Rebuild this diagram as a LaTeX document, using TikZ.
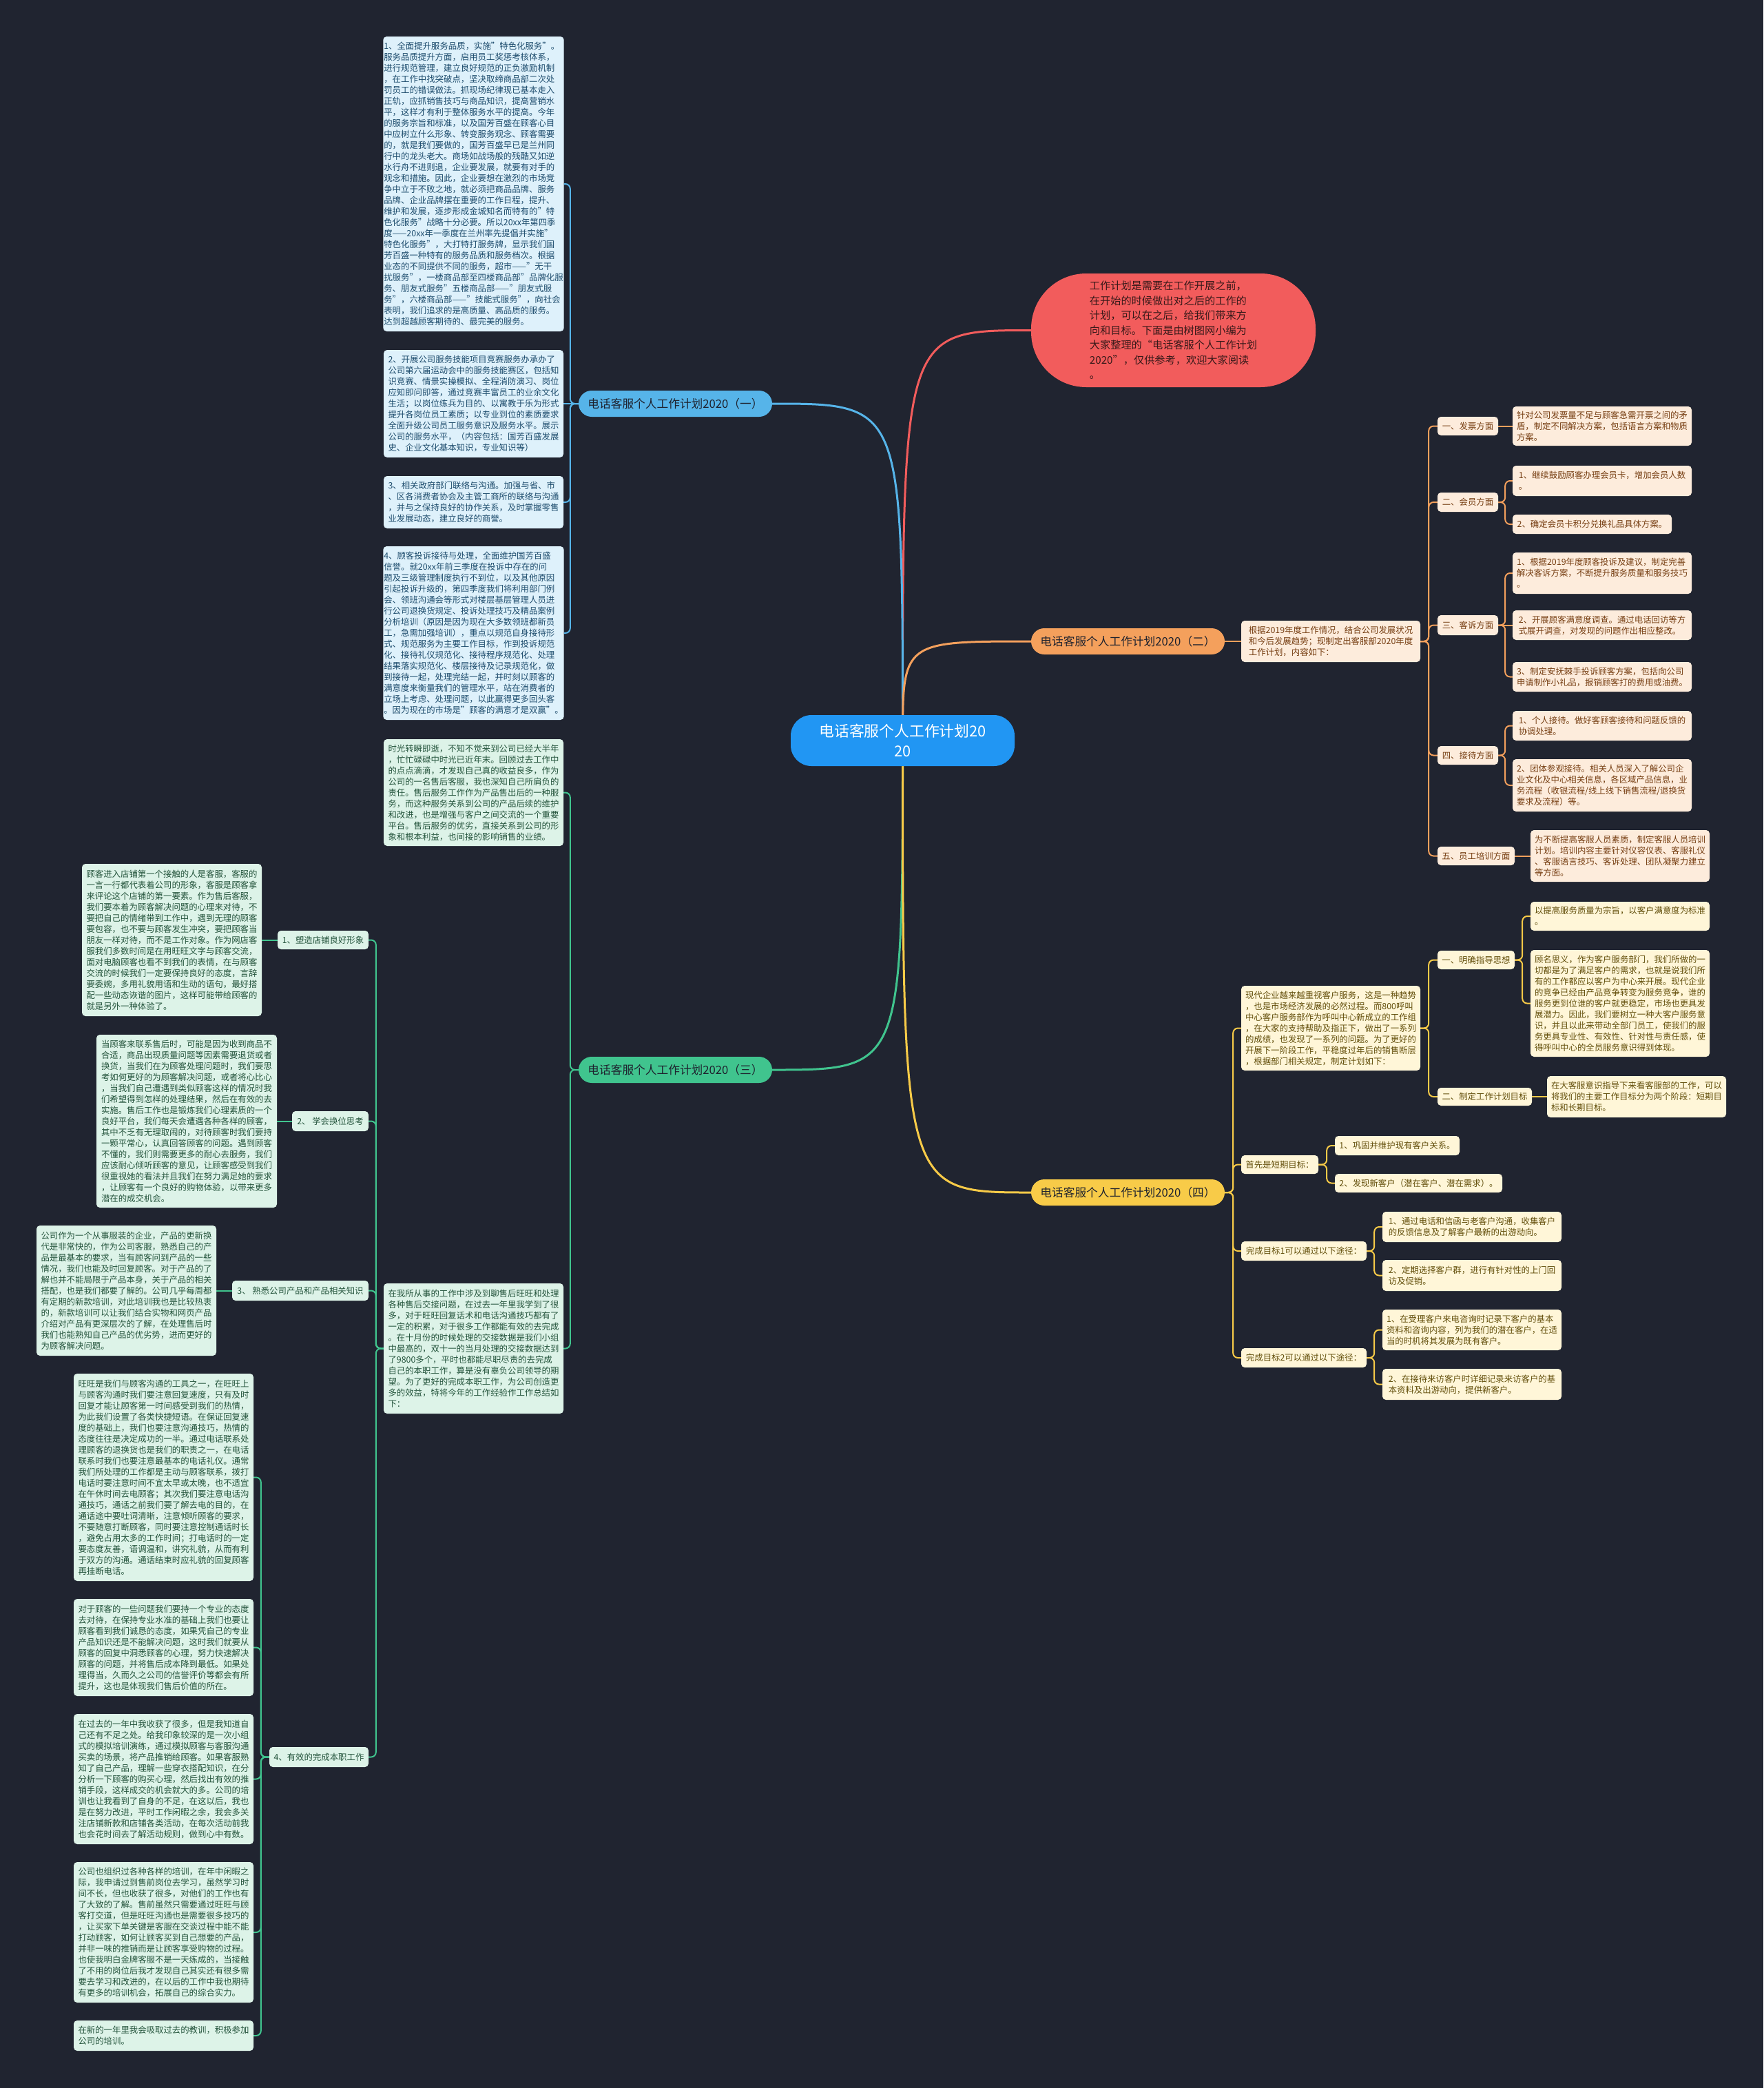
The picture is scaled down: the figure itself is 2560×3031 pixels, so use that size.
\documentclass[tikz,border=0pt]{standalone}
\usepackage{fontspec}
\setmainfont{Noto Sans CJK SC}
\definecolor{bgc}{RGB}{32,36,48}
\definecolor{cCenter}{RGB}{33,150,243}
\definecolor{cRed}{RGB}{242,92,92}
\definecolor{cRedTxt}{RGB}{55,25,25}
\definecolor{cBlueL}{RGB}{86,180,233}
\definecolor{cBlueF}{RGB}{222,241,251}
\definecolor{cBlueT}{RGB}{28,75,108}
\definecolor{cGreenL}{RGB}{64,196,142}
\definecolor{cGreenF}{RGB}{221,243,232}
\definecolor{cGreenT}{RGB}{36,84,60}
\definecolor{cOrL}{RGB}{244,160,92}
\definecolor{cOrF}{RGB}{253,236,220}
\definecolor{cOrT}{RGB}{118,62,18}
\definecolor{cYeL}{RGB}{248,203,72}
\definecolor{cYeF}{RGB}{255,246,216}
\definecolor{cYeT}{RGB}{98,78,10}
\definecolor{cLabT}{RGB}{30,34,46}
\pgfdeclarelayer{back}
\pgfdeclarelayer{links}
\pgfsetlayers{back,links,main}
\newcommand\tbx[7]{\node[#2,minimum width=#5pt,minimum height=#6pt] (#1) at ({#3+#5/2},{#4+#6/2}) {#7};}
\newcommand\lnL[4]{\draw[#1] (#3.west) -- ++(-#2,0) |- (#4.east);}
\newcommand\lnR[4]{\draw[#1] (#3.east) -- ++(#2,0) |- (#4.west);}
\begin{document}
\begin{tikzpicture}[x=1pt,y=-1pt,
  tbox/.style={rectangle,rounded corners=5pt,inner xsep=1pt,inner ysep=0pt,align=left,font=\fontsize{12.4}{16}\selectfont},
  bluebox/.style={tbox,fill=cBlueF,text=cBlueT},
  greenbox/.style={tbox,fill=cGreenF,text=cGreenT},
  orangebox/.style={tbox,fill=cOrF,text=cOrT},
  yellowbox/.style={tbox,fill=cYeF,text=cYeT},
  branchnode/.style={rectangle,rounded corners=19pt,minimum width=281pt,minimum height=38pt,inner sep=0pt,align=center,text=cLabT,font=\fontsize{16.7}{20}\selectfont},
  linkbase/.style={line width=2pt,rounded corners=7pt},
  blueln/.style={linkbase,draw=cBlueL},
  greenln/.style={linkbase,draw=cGreenL},
  orangeln/.style={linkbase,draw=cOrL},
  yellowln/.style={linkbase,draw=cYeL},
  mainln/.style={line width=3pt}
]
\useasboundingbox (0,0) rectangle (2560,3031);
\begin{pgfonlayer}{back}
\fill[bgc] (0,0) rectangle (2560,3031);
\end{pgfonlayer}

% centre
\node[rectangle,rounded corners=30pt,fill=cCenter,text=white,minimum width=325pt,minimum height=74pt,inner sep=0pt,align=center,font=\fontsize{21.8}{29}\selectfont] (c) at (1310.5,1075) {电话客服个人工作计划20\\20};

% intro bubble
\node[rectangle,rounded corners=80pt,fill=cRed,text=cRedTxt,minimum width=413pt,minimum height=165pt,inner sep=0pt,align=left,font=\fontsize{15.2}{21.5}\selectfont] (intro) at (1703.5,479.5) {工作计划是需要在工作开展之前，\\在开始的时候做出对之后的工作的\\计划，可以在之后，给我们带来方\\向和目标。下面是由树图网小编为\\大家整理的“电话客服个人工作计划\\2020”，仅供参考，欢迎大家阅读\\。};

% branch labels
\node[branchnode,fill=cBlueL] (b1) at (980.5,586) {电话客服个人工作计划2020（一）};
\node[branchnode,fill=cOrL] (b2) at (1637.5,931) {电话客服个人工作计划2020（二）};
\node[branchnode,fill=cGreenL] (b3) at (980.5,1553) {电话客服个人工作计划2020（三）};
\node[branchnode,fill=cYeL] (b4) at (1637.5,1731) {电话客服个人工作计划2020（四）};

% ---------- branch 1 ----------
\tbx{bA}{bluebox}{557}{53}{261}{428}{1、全面提升服务品质，实施"特色化服务"。\\服务品质提升方面，启用员工奖惩考核体系，\\进行规范管理，建立良好规范的正负激励机制\\，在工作中找突破点，坚决取缔商品部二次处\\罚员工的错误做法。抓现场纪律现已基本走入\\正轨，应抓销售技巧与商品知识，提高营销水\\平，这样才有利于整体服务水平的提高。今年\\的服务宗旨和标准，以及国芳百盛在顾客心目\\中应树立什么形象、转变服务观念、顾客需要\\的，就是我们要做的，国芳百盛早已是兰州同\\行中的龙头老大。商场如战场般的残酷又如逆\\水行舟不进则退，企业要发展，就要有对手的\\观念和措施。因此，企业要想在激烈的市场竞\\争中立于不败之地，就必须把商品品牌、服务\\品牌、企业品牌摆在重要的工作日程，提升、\\维护和发展，逐步形成金城知名而特有的"特\\色化服务"战略十分必要。所以20xx年第四季\\度——20xx年一季度在兰州率先提倡并实施"\\特色化服务"，大打特打服务牌，显示我们国\\芳百盛一种特有的服务品质和服务档次。根据\\业态的不同提供不同的服务，超市——"无干\\扰服务"，一楼商品部至四楼商品部"品牌化服\\务、朋友式服务"五楼商品部——"朋友式服\\务"，六楼商品部——"技能式服务"，向社会\\表明，我们追求的是高质量、高品质的服务。\\达到超越顾客期待的、最完美的服务。}
\tbx{bB}{bluebox}{557}{508}{261}{156}{2、开展公司服务技能项目竞赛服务办承办了\\公司第六届运动会中的服务技能赛区，包括知\\识竞赛、情景实操模拟、全程消防演习、岗位\\应知即问即答，通过竞赛丰富员工的业余文化\\生活；以岗位练兵为目的、以寓教于乐为形式\\提升各岗位员工素质；以专业到位的素质要求\\全面升级公司员工服务意识及服务水平。展示\\公司的服务水平，（内容包括：国芳百盛发展\\史、企业文化基本知识，专业知识等）}
\tbx{bC}{bluebox}{557}{691}{261}{76}{3、相关政府部门联络与沟通。加强与省、市\\、区各消费者协会及主管工商所的联络与沟通\\，并与之保持良好的协作关系，及时掌握零售\\业发展动态，建立良好的商誉。}
\tbx{bD}{bluebox}{557}{793}{261}{252}{4、顾客投诉接待与处理，全面维护国芳百盛\\信誉。就20xx年前三季度在投诉中存在的问\\题及三级管理制度执行不到位，以及其他原因\\引起投诉升级的，第四季度我们将利用部门例\\会、领班沟通会等形式对楼层基层管理人员进\\行公司退换货规定、投诉处理技巧及精品案例\\分析培训（原因是因为现在大多数领班都新员\\工，急需加强培训），重点以规范自身接待形\\式、规范服务为主要工作目标，作到投诉规范\\化、接待礼仪规范化、接待程序规范化、处理\\结果落实规范化、楼层接待及记录规范化，做\\到接待一起，处理完结一起，并时刻以顾客的\\满意度来衡量我们的管理水平，站在消费者的\\立场上考虑、处理问题，以此赢得更多回头客\\。因为现在的市场是"顾客的满意才是双赢"。}

% ---------- branch 3 ----------
\tbx{gI}{greenbox}{557}{1073}{261}{155}{时光转瞬即逝，不知不觉来到公司已经大半年\\，忙忙碌碌中时光已近年末。回顾过去工作中\\的点点滴滴，才发现自己真的收益良多，作为\\公司的一名售后客服，我也深知自己所肩负的\\责任。售后服务工作作为产品售出后的一种服\\务，而这种服务关系到公司的产品后续的维护\\和改进，也是增强与客户之间交流的一个重要\\平台。售后服务的优劣，直接关系到公司的形\\象和根本利益，也间接的影响销售的业绩。}
\tbx{gW}{greenbox}{557}{1863}{261}{189}{在我所从事的工作中涉及到聊售后旺旺和处理\\各种售后交接问题，在过去一年里我学到了很\\多，对于旺旺回复话术和电话沟通技巧都有了\\一定的积累，对于很多工作都能有效的去完成\\。在十月份的时候处理的交接数据是我们小组\\中最高的，双十一的当月处理的交接数据达到\\了9800多个，平时也都能尽职尽责的去完成\\自己的本职工作，算是没有辜负公司领导的期\\望。为了更好的完成本职工作，为公司创造更\\多的效益，特将今年的工作经验作工作总结如\\下：}
\tbx{s1}{greenbox}{403}{1351}{132}{27}{1、塑造店铺良好形象}
\tbx{s2}{greenbox}{424}{1613}{111}{29}{2、~学会换位思考}
\tbx{s3}{greenbox}{337}{1859}{198}{29}{3、~熟悉公司产品和产品相关知识}
\tbx{s4}{greenbox}{391}{2536}{144}{29}{4、有效的完成本职工作}
\tbx{s1c}{greenbox}{119}{1254}{261}{221}{顾客进入店铺第一个接触的人是客服，客服的\\一言一行都代表着公司的形象，客服是顾客拿\\来评论这个店铺的第一要素。作为售后客服，\\我们要本着为顾客解决问题的心理来对待，不\\要把自己的情绪带到工作中，遇到无理的顾客\\要包容，也不要与顾客发生冲突，要把顾客当\\朋友一样对待，而不是工作对象。作为网店客\\服我们多数时间是在用旺旺文字与顾客交流，\\面对电脑顾客也看不到我们的表情，在与顾客\\交流的时候我们一定要保持良好的态度，言辞\\要委婉，多用礼貌用语和生动的语句，最好搭\\配一些动态诙谐的图片，这样可能带给顾客的\\就是另外一种体验了。}
\tbx{s2c}{greenbox}{140}{1502}{262}{251}{当顾客来联系售后时，可能是因为收到商品不\\合适，商品出现质量问题等因素需要退货或者\\换货，当我们在为顾客处理问题时，我们要思\\考如何更好的为顾客解决问题，或者将心比心\\，当我们自己遭遇到类似顾客这样的情况时我\\们希望得到怎样的处理结果，然后在有效的去\\实施。售后工作也是锻炼我们心理素质的一个\\良好平台，我们每天会遭遇各种各样的顾客，\\其中不乏有无理取闹的，对待顾客时我们要持\\一颗平常心，认真回答顾客的问题。遇到顾客\\不懂的，我们则需要更多的耐心去服务，我们\\应该耐心倾听顾客的意见，让顾客感受到我们\\很重视她的看法并且我们在努力满足她的要求\\，让顾客有一个良好的购物体验，以带来更多\\潜在的成交机会。}
\tbx{s3c}{greenbox}{53}{1779}{261}{189}{公司作为一个从事服装的企业，产品的更新换\\代是非常快的，作为公司客服，熟悉自己的产\\品是最基本的要求，当有顾客问到产品的一些\\情况，我们也能及时回复顾客。对于产品的了\\解也并不能局限于产品本身，关于产品的相关\\搭配，也是我们都要了解的。公司几乎每周都\\有定期的新款培训，对此培训我也是比较热衷\\的，新款培训可以让我们结合实物和网页产品\\介绍对产品有更深层次的了解，在处理售后时\\我们也能熟知自己产品的优劣势，进而更好的\\为顾客解决问题。}
\tbx{s4a}{greenbox}{107}{1994}{261}{301}{旺旺是我们与顾客沟通的工具之一，在旺旺上\\与顾客沟通时我们要注意回复速度，只有及时\\回复才能让顾客第一时间感受到我们的热情，\\为此我们设置了各类快捷短语。在保证回复速\\度的基础上，我们也要注意沟通技巧，热情的\\态度往往是决定成功的一半。通过电话联系处\\理顾客的退换货也是我们的职责之一，在电话\\联系时我们也要注意最基本的电话礼仪。通常\\我们所处理的工作都是主动与顾客联系，拨打\\电话时要注意时间不宜太早或太晚，也不适宜\\在午休时间去电顾客；其次我们要注意电话沟\\通技巧，通话之前我们要了解去电的目的，在\\通话途中要吐词清晰，注意倾听顾客的要求，\\不要随意打断顾客，同时要注意控制通话时长\\，避免占用太多的工作时间；打电话时的一定\\要态度友善，语调温和，讲究礼貌，从而有利\\于双方的沟通。通话结束时应礼貌的回复顾客\\再挂断电话。}
\tbx{s4b}{greenbox}{107}{2321}{261}{141}{对于顾客的一些问题我们要持一个专业的态度\\去对待，在保持专业水准的基础上我们也要让\\顾客看到我们诚恳的态度，如果凭自己的专业\\产品知识还是不能解决问题，这时我们就要从\\顾客的回复中洞悉顾客的心理，努力快速解决\\顾客的问题，并将售后成本降到最低。如果处\\理得当，久而久之公司的信誉评价等都会有所\\提升，这也是体现我们售后价值的所在。}
\tbx{s4c}{greenbox}{107}{2488}{261}{189}{在过去的一年中我收获了很多，但是我知道自\\己还有不足之处。给我印象较深的是一次小组\\式的模拟培训演练，通过模拟顾客与客服沟通\\买卖的场景，将产品推销给顾客。如果客服熟\\知了自己产品，理解一些穿衣搭配知识，在分\\分析一下顾客的购买心理，然后找出有效的推\\销手段，这样成交的机会就大的多。公司的培\\训也让我看到了自身的不足，在这以后，我也\\是在努力改进，平时工作闲暇之余，我会多关\\注店铺新款和店铺各类活动，在每次活动前我\\也会花时间去了解活动规则，做到心中有数。}
\tbx{s4d}{greenbox}{107}{2703}{261}{204}{公司也组织过各种各样的培训，在年中闲暇之\\际，我申请过到售前岗位去学习，虽然学习时\\间不长，但也收获了很多，对他们的工作也有\\了大致的了解。售前虽然只需要通过旺旺与顾\\客打交道，但是旺旺沟通也是需要很多技巧的\\，让买家下单关键是客服在交谈过程中能不能\\打动顾客，如何让顾客买到自己想要的产品，\\并非一味的推销而是让顾客享受购物的过程。\\也使我明白金牌客服不是一天练成的，当接触\\了不用的岗位后我才发现自己其实还有很多需\\要去学习和改进的，在以后的工作中我也期待\\有更多的培训机会，拓展自己的综合实力。}
\tbx{s4e}{greenbox}{107}{2933}{261}{44}{在新的一年里我会吸取过去的教训，积极参加\\公司的培训。}

% ---------- branch 2 ----------
\tbx{oI}{orangebox}{1802}{901}{260}{60}{根据2019年度工作情况，结合公司发展状况\\和今后发展趋势；现制定出客服部2020年度\\工作计划，内容如下：}
\tbx{k1}{orangebox}{2087}{605}{88}{27}{一、发票方面}
\tbx{k1c}{orangebox}{2196}{590}{260}{57}{针对公司发票量不足与顾客急需开票之间的矛\\盾，制定不同解决方案，包括语言方案和物质\\方案。}
\tbx{k2}{orangebox}{2087}{715}{88}{28}{二、会员方面}
\tbx{k2a}{orangebox}{2196}{676}{260}{44}{1、继续鼓励顾客办理会员卡，增加会员人数\\。}
\tbx{k2b}{orangebox}{2196}{747}{231}{28}{2、确定会员卡积分兑换礼品具体方案。}
\tbx{k3}{orangebox}{2087}{893}{88}{29}{三、客诉方面}
\tbx{k3a}{orangebox}{2196}{802}{260}{60}{1、根据2019年度顾客投诉及建议，制定完善\\解决客诉方案，不断提升服务质量和服务技巧\\。}
\tbx{k3b}{orangebox}{2196}{886}{260}{43}{2、开展顾客满意度调查。通过电话回访等方\\式展开调查，对发现的问题作出相应整改。}
\tbx{k3c}{orangebox}{2196}{961}{260}{43}{3、制定安抚棘手投诉顾客方案，包括向公司\\申请制作小礼品，报销顾客打的费用或油费。}
\tbx{k4}{orangebox}{2087}{1083}{88}{27}{四、接待方面}
\tbx{k4a}{orangebox}{2196}{1032}{260}{43}{1、个人接待。做好客顾客接待和问题反馈的\\协调处理。}
\tbx{k4b}{orangebox}{2196}{1102}{260}{76}{2、团体参观接待。相关人员深入了解公司企\\业文化及中心相关信息，各区域产品信息，业\\务流程（收银流程/线上线下销售流程/退换货\\要求及流程）等。}
\tbx{k5}{orangebox}{2087}{1229}{112}{27}{五、员工培训方面}
\tbx{k5c}{orangebox}{2222}{1205}{260}{75}{为不断提高客服人员素质，制定客服人员培训\\计划。培训内容主要针对仪容仪表、客服礼仪\\、客服语言技巧、客诉处理、团队凝聚力建立\\等方面。}

% ---------- branch 4 ----------
\tbx{yA}{yellowbox}{1802}{1431}{260}{123}{现代企业越来越重视客户服务，这是一种趋势\\，也是市场经济发展的必然过程。而800呼叫\\中心客户服务部作为呼叫中心新成立的工作组\\，在大家的支持帮助及指正下，做出了一系列\\的成绩，也发现了一系列的问题。为了更好的\\开展下一阶段工作，平稳度过年后的销售断层\\，根据部门相关规定，制定计划如下：}
\tbx{y1}{yellowbox}{2087}{1380}{112}{27}{一、明确指导思想}
\tbx{y1a}{yellowbox}{2222}{1309}{260}{42}{以提高服务质量为宗旨，以客户满意度为标准\\。}
\tbx{y1b}{yellowbox}{2222}{1379}{260}{155}{顾名思义，作为客户服务部门，我们所做的一\\切都是为了满足客户的需求，也就是说我们所\\有的工作都应以客户为中心来开展。现代企业\\的竞争已经由产品竞争转变为服务竞争，谁的\\服务更到位谁的客户就更稳定，市场也更具发\\展潜力。因此，我们要树立一种大客户服务意\\识，并且以此来带动全部门员工，使我们的服\\务更具专业性、有效性、针对性与责任感，使\\得呼叫中心的全员服务意识得到体现。}
\tbx{y2}{yellowbox}{2087}{1579}{137}{26}{二、制定工作计划目标}
\tbx{y2c}{yellowbox}{2246}{1562}{260}{60}{在大客服意识指导下来看客服部的工作，可以\\将我们的主要工作目标分为两个阶段：短期目\\标和长期目标。}
\tbx{yB}{yellowbox}{1802}{1677}{112}{27}{首先是短期目标：}
\tbx{yBa}{yellowbox}{1938}{1649}{181}{28}{1、巩固并维护现有客户关系。}
\tbx{yBb}{yellowbox}{1938}{1704}{243}{27}{2、发现新客户（潜在客户、潜在需求）。}
\tbx{yC}{yellowbox}{1802}{1802}{182}{28}{完成目标1可以通过以下途径：}
\tbx{yCa}{yellowbox}{2007}{1759}{260}{44}{1、通过电话和信函与老客户沟通，收集客户\\的反馈信息及了解客户最新的出游动向。}
\tbx{yCb}{yellowbox}{2007}{1829}{260}{45}{2、定期选择客户群，进行有针对性的上门回\\访及促销。}
\tbx{yD}{yellowbox}{1802}{1957}{182}{28}{完成目标2可以通过以下途径：}
\tbx{yDa}{yellowbox}{2007}{1901}{260}{59}{1、在受理客户来电咨询时记录下客户的基本\\资料和咨询内容，列为我们的潜在客户，在适\\当的时机将其发展为既有客户。}
\tbx{yDb}{yellowbox}{2007}{1987}{260}{45}{2、在接待来访客户时详细记录来访客户的基\\本资料及出游动向，提供新客户。}

% ---------- connectors ----------
\begin{pgfonlayer}{links}
\draw[mainln,draw=cRed] (c.center) .. controls (c.center |- intro.west) .. (intro.west);
\draw[mainln,draw=cBlueL] (c.center) .. controls (c.center |- b1.east) .. (b1.east);
\draw[mainln,draw=cOrL] (c.center) .. controls (c.center |- b2.west) .. (b2.west);
\draw[mainln,draw=cGreenL] (c.center) .. controls (c.center |- b3.east) .. (b3.east);
\draw[mainln,draw=cYeL] (c.center) .. controls (c.center |- b4.west) .. (b4.west);
% branch 1
\lnL{blueln}{12}{b1}{bA}
\draw[blueln] (b1.west) -- (bB.east);
\lnL{blueln}{12}{b1}{bC}
\lnL{blueln}{12}{b1}{bD}
% branch 3
\lnL{greenln}{12}{b3}{gI}
\lnL{greenln}{12}{b3}{gW}
\lnL{greenln}{11}{gW}{s1}
\lnL{greenln}{11}{gW}{s2}
\lnL{greenln}{11}{gW}{s3}
\lnL{greenln}{11}{gW}{s4}
\draw[greenln] (s1.west) -- (s1c.east);
\draw[greenln] (s2.west) -- (s2c.east);
\draw[greenln] (s3.west) -- (s3c.east);
\lnL{greenln}{12}{s4}{s4a}
\lnL{greenln}{12}{s4}{s4b}
\lnL{greenln}{12}{s4}{s4c}
\lnL{greenln}{12}{s4}{s4d}
\lnL{greenln}{12}{s4}{s4e}
% branch 2
\draw[orangeln] (b2.east) -- (oI.west);
\lnR{orangeln}{12}{oI}{k1}
\lnR{orangeln}{12}{oI}{k2}
\lnR{orangeln}{12}{oI}{k3}
\lnR{orangeln}{12}{oI}{k4}
\lnR{orangeln}{12}{oI}{k5}
\draw[orangeln] (k1.east) -- (k1c.west);
\lnR{orangeln}{10}{k2}{k2a}
\lnR{orangeln}{10}{k2}{k2b}
\lnR{orangeln}{10}{k3}{k3a}
\draw[orangeln] (k3.east) -- (k3b.west);
\lnR{orangeln}{10}{k3}{k3c}
\lnR{orangeln}{10}{k4}{k4a}
\lnR{orangeln}{10}{k4}{k4b}
\draw[orangeln] (k5.east) -- (k5c.west);
% branch 4
\lnR{yellowln}{12}{b4}{yA}
\lnR{yellowln}{12}{b4}{yB}
\lnR{yellowln}{12}{b4}{yC}
\lnR{yellowln}{12}{b4}{yD}
\lnR{yellowln}{12}{yA}{y1}
\lnR{yellowln}{12}{yA}{y2}
\lnR{yellowln}{11}{y1}{y1a}
\lnR{yellowln}{11}{y1}{y1b}
\draw[yellowln] (y2.east) -- (y2c.west);
\lnR{yellowln}{12}{yB}{yBa}
\lnR{yellowln}{12}{yB}{yBb}
\lnR{yellowln}{11}{yC}{yCa}
\lnR{yellowln}{11}{yC}{yCb}
\lnR{yellowln}{11}{yD}{yDa}
\lnR{yellowln}{11}{yD}{yDb}
\end{pgfonlayer}
\end{tikzpicture}
\end{document}
